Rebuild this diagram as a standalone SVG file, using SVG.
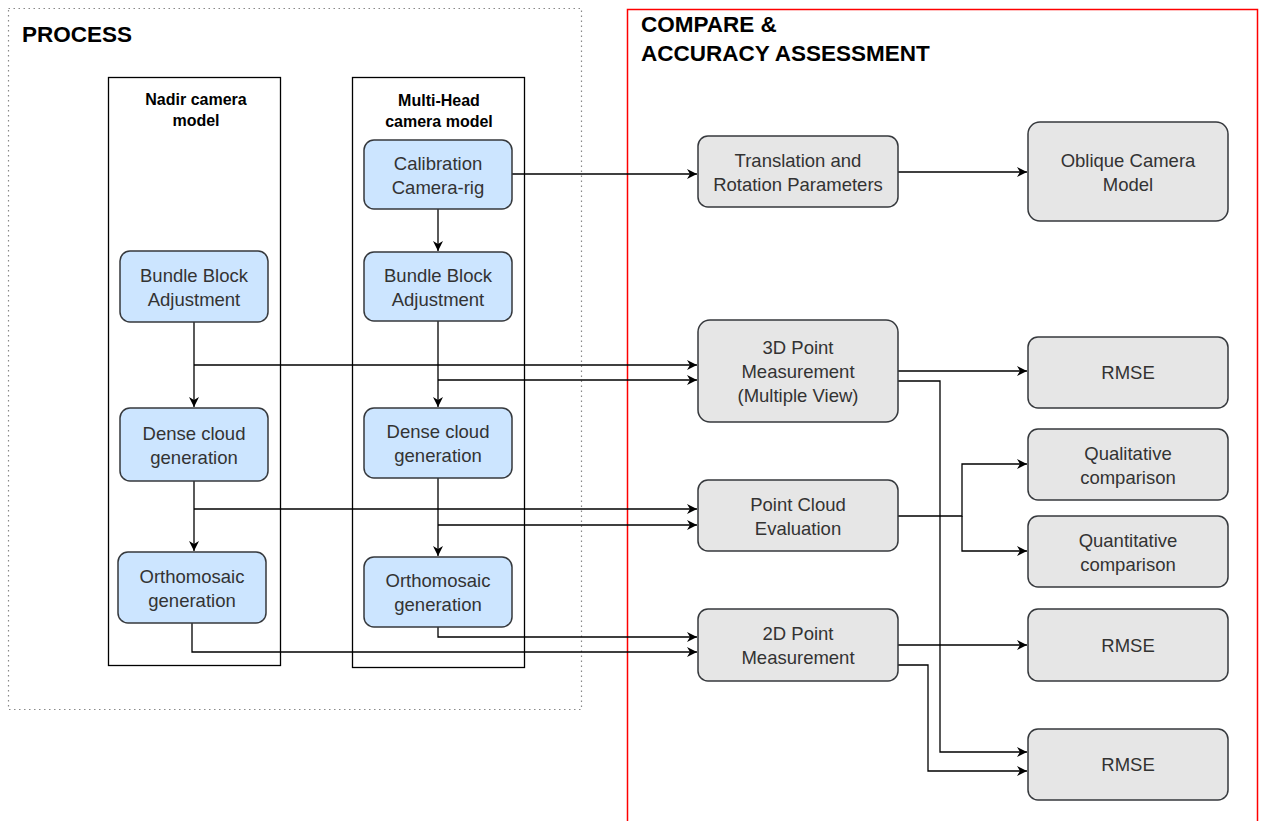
<svg xmlns="http://www.w3.org/2000/svg" width="1261" height="821" viewBox="0 0 1261 821">
<defs>
<marker id="arr" markerUnits="userSpaceOnUse" markerWidth="11" markerHeight="10" refX="10" refY="5" orient="auto">
<path d="M0,0 L10,5 L0,10 L3,5 Z" fill="#000"/>
</marker>
<style>
.title{font-family:"Liberation Sans",Arial,sans-serif;font-weight:bold;fill:#000}
.ctitle{font-family:"Liberation Sans",Arial,sans-serif;font-weight:bold;font-size:16px;fill:#000;text-anchor:middle}
.lbl{font-family:"Liberation Sans",Arial,sans-serif;font-size:18.5px;fill:#333;text-anchor:middle}
.blue{fill:#cce5ff;stroke:#36393d;stroke-width:1.5}
.gray{fill:#e6e6e6;stroke:#36393d;stroke-width:1.5}
.cont{fill:none;stroke:#000;stroke-width:1.3}
.conn path{fill:none;stroke:#000;stroke-width:1.3}
</style>
</defs>
<rect width="1261" height="821" fill="#fff"/>
<g id="process-group">
<rect x="8.5" y="8.5" width="573" height="701" fill="none" stroke="#888" stroke-width="1.2" stroke-dasharray="1.5 3.5"/>
<text class="title" x="22" y="42" font-size="22.5">PROCESS</text>
</g>
<g id="compare-group">
<rect x="627.5" y="9.5" width="630" height="830" fill="none" stroke="#ff0000" stroke-width="1.5"/>
<text class="title" x="641" y="32" font-size="22.5">COMPARE &amp;</text>
<text class="title" x="641" y="61" font-size="22.5">ACCURACY ASSESSMENT</text>
</g>
<g id="nadir-container">
<rect class="cont" x="108.5" y="77.5" width="172" height="588"/>
<text class="ctitle" x="196" y="105">Nadir camera</text>
<text class="ctitle" x="196" y="126">model</text>
</g>
<g id="multi-container">
<rect class="cont" x="352.5" y="77.5" width="172" height="590"/>
<text class="ctitle" x="439" y="106">Multi-Head</text>
<text class="ctitle" x="439" y="127">camera model</text>
</g>
<g id="connectors" class="conn">
<path d="M512,174 H697" marker-end="url(#arr)"/>
<path d="M898,172 H1027" marker-end="url(#arr)"/>
<path d="M438,209 V251" marker-end="url(#arr)"/>
<path d="M194,322 V407" marker-end="url(#arr)"/>
<path d="M194,365 H697" marker-end="url(#arr)"/>
<path d="M438,321 V407" marker-end="url(#arr)"/>
<path d="M438,380 H697" marker-end="url(#arr)"/>
<path d="M194,481 V551" marker-end="url(#arr)"/>
<path d="M194,509 H697" marker-end="url(#arr)"/>
<path d="M438,478 V556" marker-end="url(#arr)"/>
<path d="M438,525 H697" marker-end="url(#arr)"/>
<path d="M192,623 V652 H697" marker-end="url(#arr)"/>
<path d="M438,627 V637 H697" marker-end="url(#arr)"/>
<path d="M898,371 H1027" marker-end="url(#arr)"/>
<path d="M898,381 H940 V752 H1027" marker-end="url(#arr)"/>
<path d="M898,516 H962 V464 H1027" marker-end="url(#arr)"/>
<path d="M962,516 V551 H1027" marker-end="url(#arr)"/>
<path d="M898,645 H1027" marker-end="url(#arr)"/>
<path d="M898,665 H928 V771 H1027" marker-end="url(#arr)"/>
</g>
<g id="calibration">
<rect class="blue" x="364" y="140" width="148" height="69" rx="10"/>
<text class="lbl" x="438" y="169.5">Calibration</text>
<text class="lbl" x="438" y="193.5">Camera-rig</text>
</g>
<g id="bba-multi">
<rect class="blue" x="364" y="252" width="148" height="69" rx="10"/>
<text class="lbl" x="438" y="281.5">Bundle Block</text>
<text class="lbl" x="438" y="305.5">Adjustment</text>
</g>
<g id="bba-nadir">
<rect class="blue" x="120" y="251" width="148" height="71" rx="10"/>
<text class="lbl" x="194" y="281.5">Bundle Block</text>
<text class="lbl" x="194" y="305.5">Adjustment</text>
</g>
<g id="dense-nadir">
<rect class="blue" x="120" y="408" width="148" height="73" rx="10"/>
<text class="lbl" x="194" y="439.5">Dense cloud</text>
<text class="lbl" x="194" y="463.5">generation</text>
</g>
<g id="dense-multi">
<rect class="blue" x="364" y="408" width="148" height="70" rx="10"/>
<text class="lbl" x="438" y="438">Dense cloud</text>
<text class="lbl" x="438" y="462">generation</text>
</g>
<g id="ortho-nadir">
<rect class="blue" x="118" y="552" width="148" height="71" rx="10"/>
<text class="lbl" x="192" y="582.5">Orthomosaic</text>
<text class="lbl" x="192" y="606.5">generation</text>
</g>
<g id="ortho-multi">
<rect class="blue" x="364" y="557" width="148" height="70" rx="10"/>
<text class="lbl" x="438" y="587">Orthomosaic</text>
<text class="lbl" x="438" y="611">generation</text>
</g>
<g id="translation">
<rect class="gray" x="698" y="136" width="200" height="71" rx="10"/>
<text class="lbl" x="798" y="166.5">Translation and</text>
<text class="lbl" x="798" y="190.5">Rotation Parameters</text>
</g>
<g id="oblique">
<rect class="gray" x="1028" y="122" width="200" height="99" rx="12"/>
<text class="lbl" x="1128" y="166.5">Oblique Camera</text>
<text class="lbl" x="1128" y="190.5">Model</text>
</g>
<g id="point3d">
<rect class="gray" x="698" y="320" width="200" height="102" rx="12"/>
<text class="lbl" x="798" y="354">3D Point</text>
<text class="lbl" x="798" y="378">Measurement</text>
<text class="lbl" x="798" y="402">(Multiple View)</text>
</g>
<g id="rmse1">
<rect class="gray" x="1028" y="337" width="200" height="71" rx="10"/>
<text class="lbl" x="1128" y="379">RMSE</text>
</g>
<g id="qualitative">
<rect class="gray" x="1028" y="429" width="200" height="71" rx="10"/>
<text class="lbl" x="1128" y="459.5">Qualitative</text>
<text class="lbl" x="1128" y="483.5">comparison</text>
</g>
<g id="pointcloud">
<rect class="gray" x="698" y="480" width="200" height="71" rx="10"/>
<text class="lbl" x="798" y="510.5">Point Cloud</text>
<text class="lbl" x="798" y="534.5">Evaluation</text>
</g>
<g id="quantitative">
<rect class="gray" x="1028" y="516" width="200" height="71" rx="10"/>
<text class="lbl" x="1128" y="546.5">Quantitative</text>
<text class="lbl" x="1128" y="570.5">comparison</text>
</g>
<g id="point2d">
<rect class="gray" x="698" y="609" width="200" height="72" rx="10"/>
<text class="lbl" x="798" y="640">2D Point</text>
<text class="lbl" x="798" y="664">Measurement</text>
</g>
<g id="rmse2">
<rect class="gray" x="1028" y="609" width="200" height="72" rx="10"/>
<text class="lbl" x="1128" y="651.5">RMSE</text>
</g>
<g id="rmse3">
<rect class="gray" x="1028" y="729" width="200" height="71" rx="10"/>
<text class="lbl" x="1128" y="771">RMSE</text>
</g>
</svg>
